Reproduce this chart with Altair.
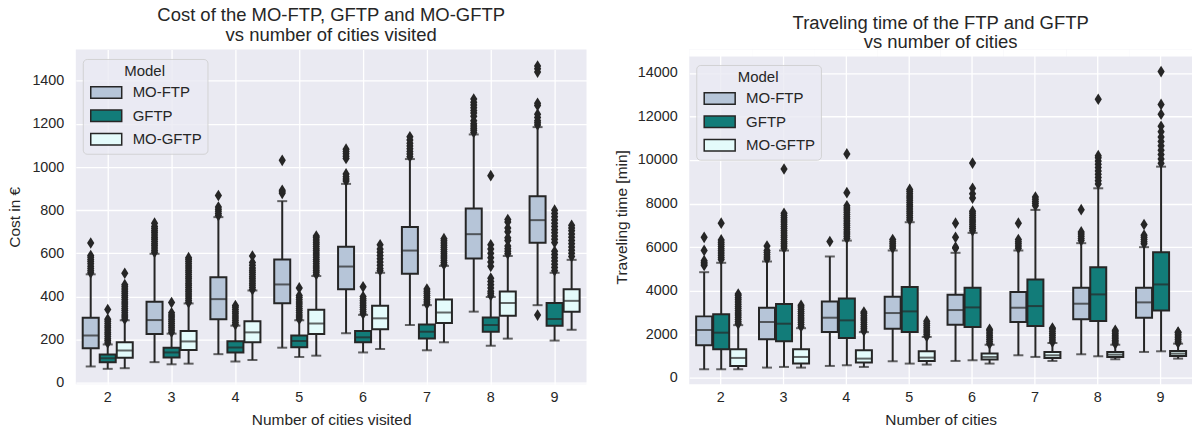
import altair as alt
import pandas as pd

FONT = "Liberation Sans"
INK = "#262626"
CITIES = [2, 3, 4, 5, 6, 7, 8, 9]
MODELS = ["MO-FTP", "GFTP", "MO-GFTP"]
FILLS = ["#B6C5D8", "#127C79", "#E4FBFB"]

# ---------------- Cost panel (left) ----------------
COST_MOFTP_LOW = [76, 96, 133, 163, 230, 268, 330, 360]
COST_MOFTP_Q1 = [160, 226, 295, 369, 434, 506, 576, 649]
COST_MOFTP_MED = [219, 291, 388, 456, 539, 613, 689, 754]
COST_MOFTP_Q3 = [302, 376, 489, 572, 631, 722, 808, 865]
COST_MOFTP_HIGH = [503, 598, 768, 842, 922, 1037, 1151, 1185]

COST_GFTP_LOW = [65, 86, 99, 120, 141, 151, 172, 196]
COST_GFTP_Q1 = [95, 118, 141, 165, 188, 206, 237, 265]
COST_GFTP_MED = [114, 141, 164, 194, 211, 237, 268, 296]
COST_GFTP_Q3 = [131, 163, 193, 219, 240, 270, 303, 370]
COST_GFTP_HIGH = [178, 228, 265, 290, 315, 360, 398, 510]

COST_MOGFTP_LOW = [68, 89, 106, 126, 157, 188, 205, 246]
COST_MOGFTP_Q1 = [116, 152, 188, 226, 249, 277, 311, 329]
COST_MOGFTP_MED = [150, 192, 234, 275, 299, 326, 370, 380]
COST_MOGFTP_Q3 = [188, 240, 285, 339, 357, 386, 423, 434]
COST_MOGFTP_HIGH = [290, 368, 428, 495, 510, 542, 588, 570]

COST_MOFTP_OUT = [
    [510, 520, 530, 540, 552, 562, 572, 582, 590, 648],
    [605, 615, 625, 635, 645, 655, 665, 675, 685, 695, 705, 715, 725, 740],
    [775, 785, 795, 805, 815, 868],
    [878, 885, 892, 1031],
    [935, 945, 955, 968, 1040, 1050, 1062, 1072, 1083],
    [1048, 1060, 1072, 1085, 1098, 1110, 1125, 1140],
    [1160, 1170, 1180, 1190, 1200, 1215, 1235, 1250, 1262, 1275, 1288, 1300, 1315],
    [314, 1195, 1205, 1215, 1230, 1245, 1285, 1295, 1440, 1455, 1468],
]
COST_GFTP_OUT = [
    [185, 195, 205, 215, 225, 235, 245, 255, 265, 275, 285, 295, 340],
    [235, 245, 255, 265, 275, 285, 295, 305, 315, 325, 372],
    [270, 280, 290, 300, 310, 320, 330, 340, 350, 358],
    [295, 305, 315, 325, 335, 345, 355, 365, 375, 385, 395, 405, 440],
    [320, 330, 340, 350, 360, 370, 380, 390, 400, 445],
    [365, 375, 385, 395, 405, 415, 425, 435],
    [405, 415, 425, 440, 455, 470, 485, 540, 560, 580, 600, 620, 640, 960],
    [520, 535, 550, 565, 580, 595, 610, 650, 665, 680, 695, 710, 725, 740, 755, 770, 785, 800],
]
COST_MOGFTP_OUT = [
    [295, 305, 315, 325, 335, 345, 355, 365, 375, 385, 395, 405, 415, 425, 435, 445, 455, 508],
    [372, 382, 392, 402, 412, 422, 432, 442, 452, 462, 472, 482, 492, 502, 512, 522, 532, 542, 552, 562, 572, 580],
    [432, 442, 452, 462, 472, 482, 492, 502, 512, 522, 532, 545, 558, 588],
    [502, 512, 522, 532, 542, 552, 562, 572, 582, 592, 602, 612, 622, 632, 642, 652, 662, 672, 680],
    [520, 530, 545, 560, 575, 590, 605, 620, 640],
    [548, 558, 568, 578, 588, 598, 608, 618, 628, 638, 648, 658, 668],
    [598, 610, 622, 634, 660, 672, 700, 718, 745, 757],
    [585, 600, 615, 630, 645, 660, 675, 690, 705, 718, 730],
]

# ---------------- Traveling time panel (right) ----------------
TIME_MOFTP_LOW = [394, 470, 547, 761, 776, 1036, 1082, 1189]
TIME_MOFTP_Q1 = [1494, 1769, 2105, 2257, 2440, 2563, 2685, 2761]
TIME_MOFTP_MED = [2196, 2563, 2761, 2975, 3112, 3219, 3403, 3464]
TIME_MOFTP_Q3 = [2822, 3219, 3510, 3723, 3815, 3937, 4136, 4136]
TIME_MOFTP_HIGH = [4850, 5342, 5571, 5846, 5739, 5846, 6182, 5999]

TIME_GFTP_LOW = [394, 501, 578, 654, 807, 960, 990, 1219]
TIME_GFTP_Q1 = [1311, 1677, 1830, 2105, 2334, 2380, 2609, 3097]
TIME_GFTP_MED = [2074, 2486, 2639, 3051, 3234, 3295, 3830, 4288]
TIME_GFTP_Q3 = [2914, 3387, 3647, 4166, 4136, 4517, 5082, 5769]
TIME_GFTP_HIGH = [5281, 5846, 6300, 7144, 6655, 7709, 8701, 9694]

TIME_MOGFTP_LOW = [394, 470, 501, 608, 654, 776, 853, 883]
TIME_MOGFTP_Q1 = [547, 654, 700, 776, 837, 914, 959, 1005]
TIME_MOGFTP_MED = [914, 959, 883, 929, 959, 1036, 1066, 1112]
TIME_MOGFTP_Q3 = [1311, 1311, 1265, 1219, 1113, 1189, 1189, 1235]
TIME_MOGFTP_HIGH = [2420, 2280, 2100, 1880, 1520, 1600, 1520, 1570]

TIME_MOFTP_OUT = [
    [5160, 5230, 5300, 5380, 5850, 6450],
    [5450, 5550, 5650, 5750, 5850, 6050],
    [6258],
    [5950, 6050, 6150, 6250, 6350],
    [5950, 6000, 6450, 7100],
    [5950, 6050, 6150, 6250, 6350, 7100],
    [6300, 6400, 6500, 6600, 6700, 7720],
    [6150, 6250, 6350, 6450, 6550, 7040],
]
TIME_GFTP_OUT = [
    [5430, 5530, 5630, 5730, 5830, 5930, 6030, 6130, 6230, 6330, 7100],
    [5950, 6050, 6150, 6250, 6350, 6450, 6550, 6650, 6750, 6850, 6950, 7050, 7150, 7250, 7350, 7450, 7550, 9587],
    [6400, 6500, 6600, 6700, 6800, 6900, 7000, 7100, 7200, 7300, 7400, 7500, 7600, 7700, 7800, 7900, 8500, 10280],
    [7250, 7350, 7450, 7550, 7650, 7750, 7850, 7950, 8050, 8150, 8250, 8350, 8450, 8550, 8650],
    [6750, 6850, 6950, 7050, 7150, 7250, 7350, 7450, 7550, 7650, 8250, 8450, 8700, 9860],
    [7900, 8000, 8100, 8200, 8300],
    [8900, 9050, 9200, 9350, 9500, 9650, 9800, 9950, 10100, 10200, 12790],
    [9850, 10050, 10250, 10450, 10650, 10850, 11050, 11300, 11550, 12100, 12550, 14060],
]
TIME_MOGFTP_OUT = [
    [2480, 2580, 2680, 2780, 2880, 2980, 3080, 3180, 3280, 3380, 3480, 3580, 3680, 3780, 3850],
    [2350, 2450, 2550, 2650, 2750, 2850, 2950, 3050, 3150, 3250, 3330],
    [2150, 2250, 2350, 2450, 2550, 2650, 2750, 2850, 2950, 3020],
    [1900, 2000, 2100, 2200, 2300, 2400, 2500, 2600],
    [1560, 1660, 1760, 1860, 1960, 2060, 2160, 2230],
    [1640, 1740, 1840, 1940, 2040, 2140, 2240, 2290],
    [1560, 1640, 1720, 1800, 1880, 1960, 2040, 2120, 2180],
    [1600, 1680, 1760, 1840, 1920, 2000, 2080, 2100],
]

COST_TICKS = [0, 200, 400, 600, 800, 1000, 1200, 1400]
TIME_TICKS = [0, 2000, 4000, 6000, 8000, 10000, 12000, 14000]
COST_DOMAIN = [-6, 1545]
TIME_DOMAIN = [-290, 15076]     # view is as tall as the left one
TIME_VISIBLE_TOP = 14745        # the shaded area of the right panel ends here

RECT_PATH = "M-2.07,-0.77H2.07V0.77H-2.07Z"
DIAMOND_PATH = "M0,-1L0.62,0L0,1L-0.62,0Z"


def stats_frame(groups):
    rows = []
    for model, (low, q1, med, q3, high) in zip(MODELS, groups):
        for i, c in enumerate(CITIES):
            rows.append({"city": c, "model": model, "low": low[i], "q1": q1[i],
                         "med": med[i], "q3": q3[i], "high": high[i]})
    return pd.DataFrame(rows)


def outlier_frame(groups):
    rows = []
    for model, per_city in zip(MODELS, groups):
        for c, vals in zip(CITIES, per_city):
            for v in vals:
                rows.append({"city": c, "model": model, "value": v})
    return pd.DataFrame(rows)


def panel(stats, outs, ydomain, yticks, ytitle, xtitle, title, width, height,
          ytitle_pad, title_offset, legend_x, legend_y, cover_top=None):
    xenc = alt.X("city:O", scale=alt.Scale(paddingInner=0, paddingOuter=0),
                 axis=alt.Axis(title=xtitle, labelAngle=0, grid=True, labelPadding=6,
                               titlePadding=9, zindex=0))
    xoff = alt.XOffset("model:N", sort=MODELS,
                       scale=alt.Scale(domain=MODELS, paddingInner=0.06, paddingOuter=0.405))
    yscale = alt.Scale(domain=ydomain, nice=False, zero=False)
    yaxis = alt.Axis(title=ytitle, values=yticks, format="d", grid=True, labelPadding=12,
                     titlePadding=ytitle_pad, zindex=0)
    base = alt.Chart(stats)
    layers = []
    if cover_top is not None:
        cover = alt.Chart(pd.DataFrame({"city": CITIES})).mark_rect(
            color="white", opacity=1).encode(
            x=xenc, y=alt.datum(cover_top, scale=yscale), y2=alt.datum(ydomain[1]))
        layers.append(cover)
    w1 = base.mark_rule(color=INK, strokeWidth=2).encode(
        x=xenc, xOffset=xoff, y=alt.Y("low:Q", scale=yscale, axis=yaxis), y2="q1:Q")
    w2 = base.mark_rule(color=INK, strokeWidth=2).encode(
        x=xenc, xOffset=xoff, y=alt.Y("q3:Q", scale=yscale), y2="high:Q")
    c1 = base.mark_tick(color=INK, thickness=2, size=10, orient="horizontal").encode(
        x=xenc, xOffset=xoff, y=alt.Y("low:Q", scale=yscale))
    c2 = base.mark_tick(color=INK, thickness=2, size=10, orient="horizontal").encode(
        x=xenc, xOffset=xoff, y=alt.Y("high:Q", scale=yscale))
    box = base.mark_bar(stroke=INK, strokeWidth=2, opacity=1).encode(
        x=xenc, xOffset=xoff, y=alt.Y("q1:Q", scale=yscale), y2="q3:Q",
        fill=alt.Fill("model:N", sort=MODELS,
                      scale=alt.Scale(domain=MODELS, range=FILLS),
                      legend=alt.Legend(
                          title="Model", orient="none", legendX=legend_x, legendY=legend_y,
                          direction="vertical", symbolType=RECT_PATH, symbolSize=225,
                          symbolOffset=10,
                          symbolStrokeColor=INK, symbolStrokeWidth=1.5, symbolOpacity=1,
                          labelFontSize=15, titleFontSize=15, titleFontWeight="normal",
                          titleAnchor="middle", labelFont=FONT, titleFont=FONT,
                          labelColor=INK, titleColor=INK,
                          fillColor="rgba(234,234,242,0.8)", strokeColor="rgba(204,204,204,0.8)",
                          padding=5, cornerRadius=4, rowPadding=4.5, labelOffset=18,
                          titlePadding=5, zindex=2)))
    med = base.mark_tick(color=INK, thickness=2, size=16, orient="horizontal").encode(
        x=xenc, xOffset=xoff, y=alt.Y("med:Q", scale=yscale))
    pts = alt.Chart(outs).mark_point(shape=DIAMOND_PATH, filled=True, size=137,
                                     color=INK, opacity=1, strokeWidth=0).encode(
        x=xenc, xOffset=xoff, y=alt.Y("value:Q", scale=yscale))
    layers += [w1, w2, c1, c2, box, med, pts]
    return alt.layer(*layers).properties(
        width=width, height=height, title=alt.Title(title, offset=title_offset),
        view=alt.ViewBackground(fill="#EAEAF2", strokeWidth=0))


cost_stats = stats_frame([
    (COST_MOFTP_LOW, COST_MOFTP_Q1, COST_MOFTP_MED, COST_MOFTP_Q3, COST_MOFTP_HIGH),
    (COST_GFTP_LOW, COST_GFTP_Q1, COST_GFTP_MED, COST_GFTP_Q3, COST_GFTP_HIGH),
    (COST_MOGFTP_LOW, COST_MOGFTP_Q1, COST_MOGFTP_MED, COST_MOGFTP_Q3, COST_MOGFTP_HIGH),
])
cost_out = outlier_frame([COST_MOFTP_OUT, COST_GFTP_OUT, COST_MOGFTP_OUT])
time_stats = stats_frame([
    (TIME_MOFTP_LOW, TIME_MOFTP_Q1, TIME_MOFTP_MED, TIME_MOFTP_Q3, TIME_MOFTP_HIGH),
    (TIME_GFTP_LOW, TIME_GFTP_Q1, TIME_GFTP_MED, TIME_GFTP_Q3, TIME_GFTP_HIGH),
    (TIME_MOGFTP_LOW, TIME_MOGFTP_Q1, TIME_MOGFTP_MED, TIME_MOGFTP_Q3, TIME_MOGFTP_HIGH),
])
time_out = outlier_frame([TIME_MOFTP_OUT, TIME_GFTP_OUT, TIME_MOGFTP_OUT])

left = panel(cost_stats, cost_out, COST_DOMAIN, COST_TICKS, "Cost in €",
             "Number of cities visited",
             ["Cost of the MO-FTP, GFTP and MO-GFTP", "vs number of cities visited"],
             512, 335.6, 9, 5, 7, 9.6)
right = panel(time_stats, time_out, TIME_DOMAIN, TIME_TICKS, "Traveling time [min]",
              "Number of cities",
              ["Traveling time of the FTP and GFTP", "vs number of cities"],
              504, 335.6, 8, -2.3, 7, 15.6, cover_top=TIME_VISIBLE_TOP)

chart = alt.hconcat(left, right, spacing=103, bounds="flush").resolve_scale(
    fill="independent").resolve_legend(fill="independent").properties(
    padding={"left": 7, "top": 6, "right": 0, "bottom": 0}
).configure_axis(
    labelFont=FONT, titleFont=FONT, labelColor=INK, titleColor=INK,
    labelFontSize=14.4, titleFontSize=15.5, titleFontWeight="normal",
    domain=False, ticks=False, tickSize=0, gridColor="white", gridWidth=1.3,
).configure_title(
    font=FONT, fontSize=18.5, fontWeight="normal", color=INK, anchor="middle",
    lineHeight=19.5,
).configure_view(stroke="transparent")

chart.save("out.html", embed_options={"renderer": "svg", "actions": False})
